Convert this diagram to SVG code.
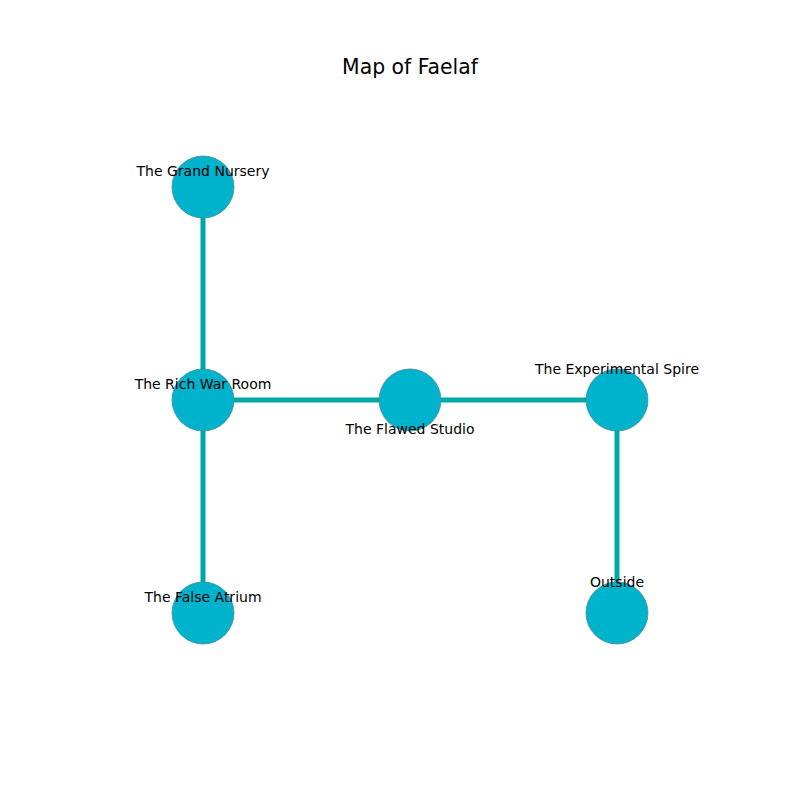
<svg xmlns="http://www.w3.org/2000/svg" width="800" height="800" viewBox="0 0 800 800">
<style>
text{font-family:"DejaVu Sans",sans-serif;fill:#000;text-anchor:middle}
.lbl{font-size:14px}
.title{font-size:20.4px}
.node{fill:#00b3cc;stroke:#4a8a94;stroke-width:0.8}
.edge{stroke:#00a8a8;stroke-width:5;fill:none}
</style>
<rect width="800" height="800" fill="#fff"/>
<text class="title" x="410" y="74">Map of Faelaf</text>
<g id="edges">
<line class="edge" x1="203" y1="187" x2="203" y2="400"/>
<line class="edge" x1="203" y1="400" x2="203" y2="613"/>
<line class="edge" x1="203" y1="400" x2="617" y2="400"/>
<line class="edge" x1="617" y1="400" x2="617" y2="613"/>
</g>
<g id="grand-nursery"><circle class="node" cx="203" cy="187" r="31"/><text class="lbl" x="203" y="176">The Grand Nursery</text></g>
<g id="rich-war-room"><circle class="node" cx="203" cy="400" r="31"/><text class="lbl" x="203" y="389">The Rich War Room</text></g>
<g id="flawed-studio"><circle class="node" cx="410" cy="400" r="31"/><text class="lbl" x="410" y="434">The Flawed Studio</text></g>
<g id="experimental-spire"><circle class="node" cx="617" cy="400" r="31"/><text class="lbl" x="617" y="374">The Experimental Spire</text></g>
<g id="false-atrium"><circle class="node" cx="203" cy="613" r="31"/><text class="lbl" x="203" y="602">The False Atrium</text></g>
<g id="outside"><circle class="node" cx="617" cy="613" r="31"/><text class="lbl" x="617" y="587">Outside</text></g>
</svg>
